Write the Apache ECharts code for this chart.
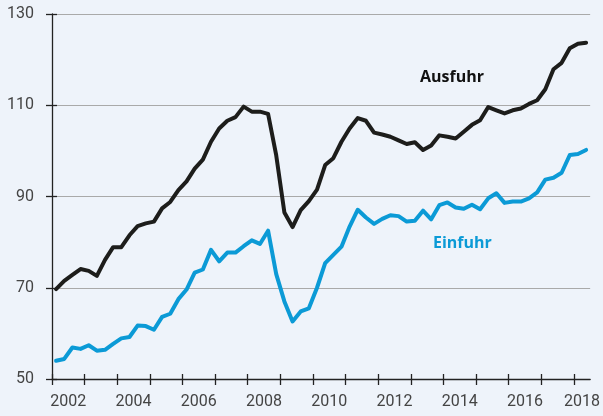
<!DOCTYPE html>
<html>
<head>
<meta charset="utf-8">
<script src="https://cdn.jsdelivr.net/npm/echarts@6/dist/echarts.min.js"></script>
<style>
  html, body { margin: 0; padding: 0; background: #eef3fa; }
  #chart { width: 603px; height: 416px; }
</style>
</head>
<body>
<div id="chart"></div>
<script>
// Quartalswerte 2002 Q1 bis 2018 Q2
var firstYear = 2002
var lastYear = 2018
var ausfuhr = [
  69.7, 71.5, 72.8, 74.1, 73.7, 72.6, 76.1, 78.9, 78.9, 81.5, 83.5, 84.1,
  84.5, 87.4, 88.8, 91.4, 93.3, 96.1, 98.1, 102.0, 104.9, 106.6, 107.4, 109.7,
  108.6, 108.6, 108.1, 99.0, 86.5, 83.3, 87.0, 89.0, 91.5, 96.9, 98.4, 102.0,
  104.9, 107.2, 106.6, 104.0, 103.6, 103.1, 102.3, 101.5, 101.9, 100.2, 101.2, 103.4,
  103.1, 102.7, 104.2, 105.7, 106.7, 109.6, 108.9, 108.2, 108.9, 109.3, 110.3, 111.1,
  113.5, 117.9, 119.3, 122.5, 123.5, 123.7
]
var einfuhr = [
  54.0, 54.4, 56.9, 56.6, 57.4, 56.2, 56.4, 57.7, 58.9, 59.2, 61.7, 61.6,
  60.8, 63.6, 64.3, 67.5, 69.6, 73.3, 74.0, 78.3, 75.8, 77.7, 77.7, 79.1,
  80.4, 79.6, 82.5, 73.0, 67.0, 62.6, 64.8, 65.5, 70.0, 75.4, 77.2, 79.0,
  83.4, 87.1, 85.4, 84.0, 85.1, 85.9, 85.7, 84.5, 84.7, 86.9, 85.0, 88.1,
  88.7, 87.6, 87.3, 88.2, 87.2, 89.6, 90.7, 88.6, 88.9, 88.9, 89.6, 90.9,
  93.7, 94.1, 95.2, 99.1, 99.3, 100.2
]
var yTicks = [50, 70, 90, 110, 130]
var labelYears = [2002, 2004, 2006, 2008, 2010, 2012, 2014, 2016, 2018]

var xMax = lastYear + 0.5
var years = []
for (var y = firstYear; y <= lastYear; y++) years.push(y)

// Quartalsmitte als x-Position
function toPairs(values) {
  return values.map(function (v, i) {
    return [firstYear + (i + 0.5) / 4, v]
  })
}

// Jahreslabel in der Mitte des Jahres, letztes Label nach innen geschoben
var labelPos = labelYears.map(function (yr) {
  return Math.min(yr + 0.5, xMax - 0.25)
})

var chart = echarts.init(document.getElementById('chart'))
var axisColor = '#222'
var labelFont = { color: '#444', fontSize: 16, fontFamily: 'Roboto' }

var option = {
  backgroundColor: '#eef3fa',
  animation: false,
  grid: { left: 52, right: 10, top: 14, bottom: 37 },
  xAxis: [
    {
      type: 'value',
      min: firstYear,
      max: xMax,
      axisLine: { show: true, lineStyle: { color: axisColor, width: 1.3 } },
      axisTick: { show: true, inside: false, length: 6, customValues: years, lineStyle: { color: axisColor, width: 1.3 } },
      axisLabel: Object.assign({
        show: true,
        margin: 15,
        customValues: labelPos,
        formatter: function (v) { return String(Math.floor(v)) }
      }, labelFont),
      splitLine: { show: false }
    },
    {
      type: 'value',
      position: 'bottom',
      min: firstYear,
      max: xMax,
      axisLine: { show: false },
      axisTick: { show: true, inside: true, length: 5, customValues: years, lineStyle: { color: axisColor, width: 1.3 } },
      axisLabel: { show: false },
      splitLine: { show: false }
    }
  ],
  yAxis: [
    {
      type: 'value',
      min: 50,
      max: 130,
      interval: 20,
      axisLine: { show: true, lineStyle: { color: axisColor, width: 1.3 } },
      axisTick: { show: true, inside: false, length: 6, customValues: yTicks, lineStyle: { color: axisColor, width: 1.3 } },
      axisLabel: Object.assign({ margin: 18, customValues: yTicks }, labelFont),
      splitLine: { show: true, lineStyle: { color: '#a9a9a9', width: 1.2 } }
    },
    {
      type: 'value',
      position: 'left',
      min: 50,
      max: 130,
      interval: 20,
      axisLine: { show: false },
      axisTick: { show: true, inside: true, length: 5, customValues: yTicks, lineStyle: { color: axisColor, width: 1.3 } },
      axisLabel: { show: false },
      splitLine: { show: false }
    }
  ],
  series: [
    {
      name: 'Einfuhr',
      type: 'line',
      data: toPairs(einfuhr),
      showSymbol: false,
      lineStyle: { color: '#0b9ad6', width: 4, join: 'round', cap: 'round' },
      z: 3
    },
    {
      name: 'Ausfuhr',
      type: 'line',
      data: toPairs(ausfuhr),
      showSymbol: false,
      lineStyle: { color: '#1d1d1b', width: 4, join: 'round', cap: 'round' },
      z: 4
    }
  ],
  graphic: [
    {
      type: 'text',
      left: 420,
      top: 69,
      style: { text: 'Ausfuhr', fill: '#111', font: 'bold 16px "Open Sans"' }
    },
    {
      type: 'text',
      left: 433,
      top: 235,
      style: { text: 'Einfuhr', fill: '#0b9ad6', font: 'bold 16px "Open Sans"' }
    }
  ]
}
chart.setOption(option)
</script>
</body>
</html>
